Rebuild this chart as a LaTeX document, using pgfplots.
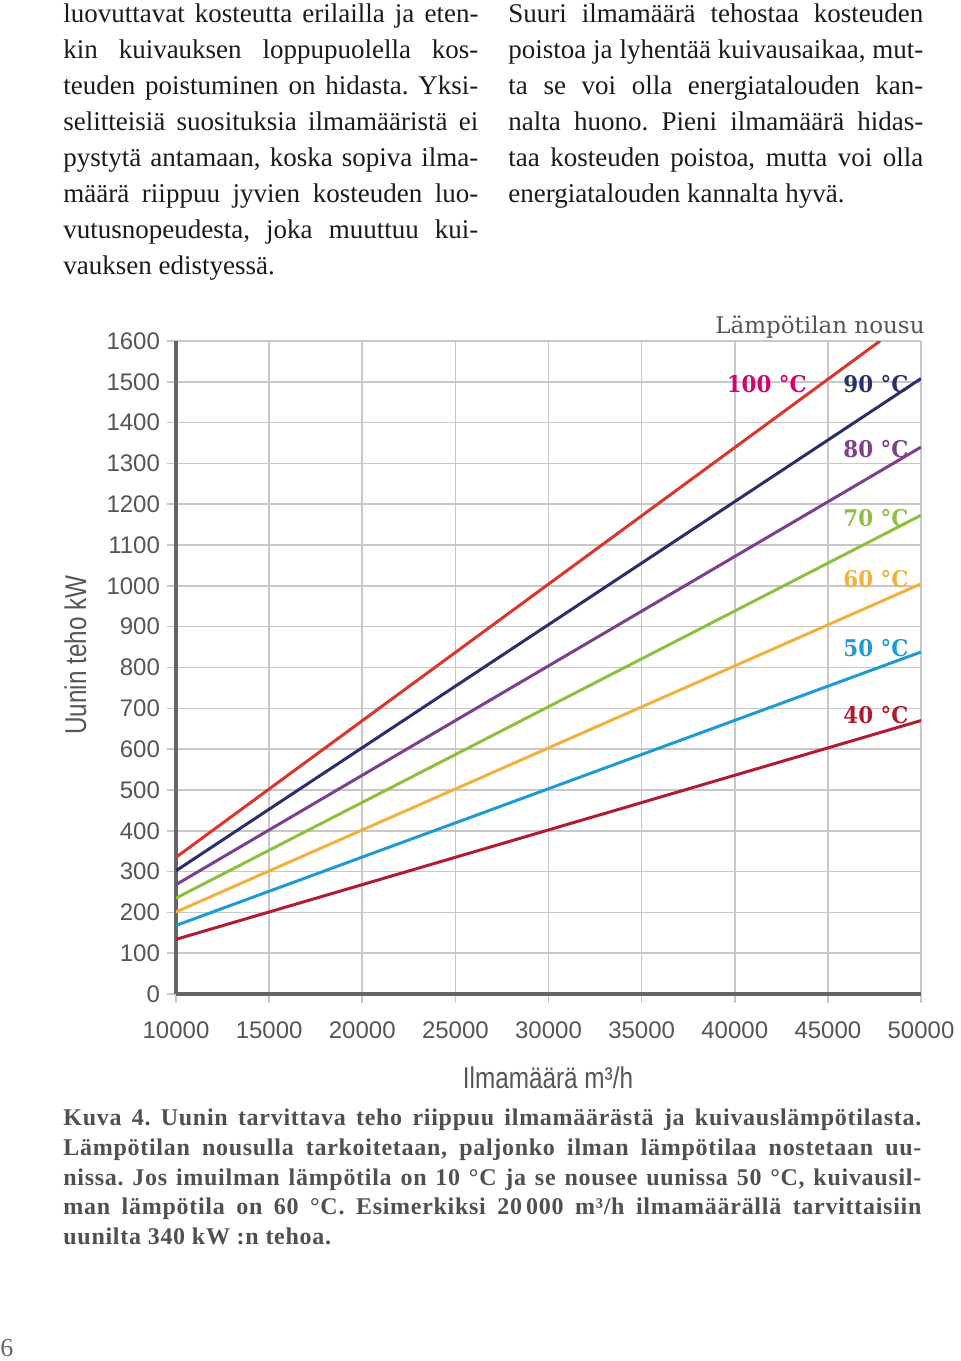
\documentclass[border=0pt]{standalone}
\usepackage{fontspec}
\setmainfont{Liberation Serif}
\newfontfamily\capfam[LetterSpace=3]{Liberation Serif}
\newfontfamily\condsans[FakeStretch=0.81]{Liberation Sans}
\newfontfamily\ticksans{Liberation Sans}
\newfontfamily\slab{DejaVu Serif}
\newfontfamily\slabb[FakeStretch=0.93]{DejaVu Serif Bold}
\usepackage{pgfplots}
\pgfplotsset{compat=1.18}
\definecolor{c100}{HTML}{D9372B}
\definecolor{c90}{HTML}{2B2F6D}
\definecolor{c80}{HTML}{7E3F8E}
\definecolor{c70}{HTML}{8DC03F}
\definecolor{c60}{HTML}{F2B13E}
\definecolor{c50}{HTML}{1F9AD6}
\definecolor{c40}{HTML}{B11D2F}
\definecolor{l100}{HTML}{D6006F}
\definecolor{axisgray}{HTML}{666666}
\definecolor{gridgray}{HTML}{C8C8C8}
\definecolor{labelgray}{HTML}{555555}
\definecolor{capgray}{HTML}{505050}
\definecolor{bodyblack}{HTML}{1A1A1A}
\frenchspacing
\newcommand\bodyf{\frenchspacing\fontsize{13.5pt}{18pt}\selectfont}
\newcommand\capf{\frenchspacing\capfam\bfseries\fontsize{12pt}{15pt}\selectfont}
\newcommand\jl[1]{\hbox to 207.5pt{#1}}
\newcommand\jc[1]{\hbox to 429pt{#1}}
\begin{document}
\begin{tikzpicture}
\useasboundingbox (0,0) rectangle (480pt,-680.5pt);
\begin{axis}[
  at={(88pt,-497pt)}, anchor=south west,
  scale only axis, width=372.5pt, height=326.5pt,
  xmin=10000, xmax=50000, ymin=0, ymax=1600,
  axis x line=bottom, axis y line=left,
  axis line style={-, draw=axisgray, line width=1.75pt},
  xtick={10000,15000,...,50000}, ytick={0,100,...,1600},
  scaled x ticks=false, scaled y ticks=false,
  grid=major, major grid style={draw=gridgray, line width=0.8pt},
  tick align=outside, major tick length=4.5pt,
  tick style={draw=gridgray, line width=0.8pt},
  ticklabel style={font=\ticksans\fontsize{12pt}{14pt}\selectfont, text=labelgray},
  /pgf/number format/assume math mode=true,
  /pgf/number format/1000 sep={},
  xticklabel style={yshift=-6pt},
  yticklabel style={xshift=0pt},
]
\addplot[c40, line width=1.5pt] coordinates {(10000,134) (50000,670)};
\addplot[c50, line width=1.5pt] coordinates {(10000,168) (50000,838)};
\addplot[c60, line width=1.5pt] coordinates {(10000,201) (50000,1005)};
\addplot[c70, line width=1.5pt] coordinates {(10000,235) (50000,1173)};
\addplot[c80, line width=1.5pt] coordinates {(10000,268) (50000,1340)};
\addplot[c90, line width=1.5pt] coordinates {(10000,302) (50000,1508)};
\addplot[c100, line width=1.5pt] coordinates {(10000,335) (47800,1600)};
\end{axis}
\begin{scope}[x=0.5pt, y=-0.5pt, every node/.style={inner sep=0pt}]
% body text, left column
\begin{scope}[every node/.append style={anchor=base west, text=bodyblack, font=\bodyf}]
\node at (63,22)  {\jl{luovuttavat kosteutta erilailla ja eten-}};
\node at (63,58)  {\jl{kin kuivauksen loppupuolella kos-}};
\node at (63,94)  {\jl{teuden poistuminen on hidasta. Yksi-}};
\node at (63,130) {\jl{selitteisiä suosituksia ilmamääristä ei}};
\node at (63,166) {\jl{pystytä antamaan, koska sopiva ilma-}};
\node at (63,202) {\jl{määrä riippuu jyvien kosteuden luo-}};
\node at (63,238) {\jl{vutusnopeudesta, joka muuttuu kui-}};
\node at (63,274) {vauksen edistyessä.};
% right column
\node at (508,22)  {\jl{Suuri ilmamäärä tehostaa kosteuden}};
\node at (508,58)  {\jl{poistoa ja lyhentää kuivausaikaa, mut-}};
\node at (508,94)  {\jl{ta se voi olla energiatalouden kan-}};
\node at (508,130) {\jl{nalta huono. Pieni ilmamäärä hidas-}};
\node at (508,166) {\jl{taa kosteuden poistoa, mutta voi olla}};
\node at (508,202) {energiatalouden kannalta hyvä.};
\end{scope}
% caption
\begin{scope}[every node/.append style={anchor=base west, text=capgray, font=\capf}]
\node at (63,1125) {\jc{Kuva 4. Uunin tarvittava teho riippuu ilmamäärästä ja kuivauslämpötilasta.}};
\node at (63,1155) {\jc{Lämpötilan nousulla tarkoitetaan, paljonko ilman lämpötilaa nostetaan uu-}};
\node at (63,1185) {\jc{nissa. Jos imuilman lämpötila on 10 °C ja se nousee uunissa 50 °C, kuivausil-}};
\node at (63,1214) {\jc{man lämpötila on 60 °C. Esimerkiksi 20\,000 m³/h ilmamäärällä tarvittaisiin}};
\node at (63,1244) {uunilta 340 kW :n tehoa.};
\end{scope}
% axis titles
\node[text=labelgray, font=\condsans\fontsize{15pt}{18pt}\selectfont, rotate=90, anchor=base] at (86,655) {Uunin teho kW};
\node[text=labelgray, font=\condsans\fontsize{15pt}{18pt}\selectfont, anchor=base] at (548,1088) {Ilmamäärä m³/h};
% legend title and labels
\node[text=labelgray, font=\slab\fontsize{11.5pt}{14pt}\selectfont, anchor=base east] at (925,333) {Lämpötilan nousu};
\begin{scope}[every node/.append style={font=\slabb\fontsize{11.5pt}{14pt}\selectfont}]
\node[text=l100, anchor=base east] at (807,392) {100 °C};
\node[text=c90, anchor=base west] at (843,392) {90 °C};
\node[text=c80, anchor=base west] at (843,457) {80 °C};
\node[text=c70, anchor=base west] at (843,526) {70 °C};
\node[text=c60, anchor=base west] at (843,587) {60 °C};
\node[text=c50, anchor=base west] at (843,656) {50 °C};
\node[text=c40, anchor=base west] at (843,723) {40 °C};
\end{scope}
% page number
\node[text=axisgray, font=\fontsize{13pt}{15pt}\selectfont, anchor=base west] at (0,1356) {6};
\end{scope}
\end{tikzpicture}
\end{document}
